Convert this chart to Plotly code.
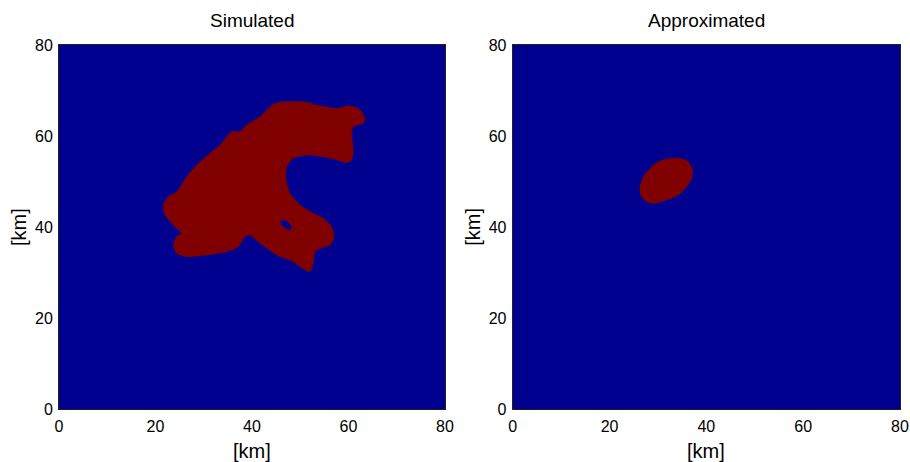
import plotly.graph_objects as go

# --- data (km) ---
sim_x = [45.12, 50.63, 53.41, 57.55, 59.96, 62.03, 63.42, 63.07, 61.0, 60.66, 61.0, 60.66,
         59.63, 57.55, 54.78, 51.34, 48.56, 47.19, 47.05, 47.88, 49.95, 52.70, 54.78, 56.52,
         56.99, 56.16, 54.09, 53.06, 52.70, 52.02, 50.98, 48.56, 45.12, 41.66, 39.58, 38.55,
         37.16, 34.76, 30.61, 26.47, 24.39, 23.69, 24.39, 25.43, 24.04, 21.97, 21.61, 22.64,
         24.39, 26.47, 28.54, 31.29, 33.37, 35.09, 35.79, 37.51, 38.90, 41.66, 43.73, 45.12]
sim_y = [67.33, 67.55, 66.83, 66.10, 66.61, 66.10, 63.90, 62.81, 62.06, 60.61, 56.94, 54.75,
         54.15, 54.75, 55.47, 55.84, 55.12, 53.28, 50.35, 47.43, 44.86, 43.04, 41.94, 40.10,
         37.55, 36.08, 35.36, 34.61, 32.06, 30.22, 30.59, 32.41, 33.88, 36.45, 38.28, 37.90,
         35.71, 34.61, 33.88, 33.51, 34.26, 36.08, 37.90, 38.65, 40.10, 42.67, 44.86, 46.69,
         47.79, 51.08, 53.65, 56.22, 58.04, 60.24, 60.96, 60.96, 62.43, 64.26, 66.45, 67.33]
hole_x = [46.36, 47.19, 47.87, 48.23, 47.73, 46.84, 46.15, 46.01, 46.36]
hole_y = [41.57, 41.35, 40.47, 39.75, 39.37, 39.88, 40.47, 41.20, 41.57]
app_x = [31.81, 34.56, 36.27, 37.18, 36.97, 35.94, 34.21, 31.81, 29.39, 27.68, 26.44, 26.30,
         26.98, 28.71, 30.08, 31.81]
app_y = [54.97, 55.12, 54.37, 52.55, 50.73, 48.88, 47.06, 45.96, 45.24, 45.59, 47.06, 48.88,
         51.08, 53.27, 54.37, 54.97]
ticks = [0, 20, 40, 60, 80]
titles = ["Simulated", "Approximated"]

BLUE = "#00008F"
RED = "#800000"
FONT = "Liberation Sans, Arial, sans-serif"

fig = go.Figure()

def blob(x, y, color, xa, ya):
    fig.add_trace(go.Scatter(x=x, y=y, mode="lines", fill="toself", fillcolor=color,
                             line=dict(color=color, width=0.5, shape="spline", smoothing=0.6),
                             xaxis=xa, yaxis=ya, hoverinfo="skip", showlegend=False))

blob(sim_x, sim_y, RED, "x", "y")
blob(hole_x, hole_y, BLUE, "x", "y")
blob(app_x, app_y, RED, "x2", "y2")

ax = dict(range=[0, 80], tickvals=ticks, ticktext=[str(t) for t in ticks], showgrid=False,
          zeroline=False, showline=True, mirror=True, linecolor="#222", linewidth=1,
          ticks="", automargin=False, ticklabelstandoff=2,
          tickfont=dict(family=FONT, size=16, color="black"))

ydom = [1 - 409.3 / 462, 1 - 45 / 462]
fig.update_layout(
    width=910, height=462, margin=dict(l=0, r=0, t=0, b=0),
    paper_bgcolor="white", plot_bgcolor=BLUE,
    xaxis=dict(ax, domain=[59 / 910, 445 / 910], anchor="y"),
    yaxis=dict(ax, domain=ydom, anchor="x"),
    xaxis2=dict(ax, domain=[512.7 / 910, 900 / 910], anchor="y2"),
    yaxis2=dict(ax, domain=ydom, anchor="x2"),
)

ann = []
for i, (x0, x1) in enumerate([(59, 445), (512.7, 900)]):
    cx = (x0 + x1) / 2 / 910
    ann.append(dict(text=titles[i], x=cx, y=1 - 20.5 / 462, xref="paper", yref="paper",
                    showarrow=False, font=dict(family=FONT, size=19, color="black"),
                    xanchor="center", yanchor="middle"))
    ann.append(dict(text="[km]", x=cx, y=1 - 451 / 462, xref="paper", yref="paper",
                    showarrow=False, font=dict(family=FONT, size=20, color="black"),
                    xanchor="center", yanchor="middle"))
    ann.append(dict(text="[km]", x=(x0 - 40) / 910, y=1 - 227 / 462, xref="paper", yref="paper",
                    showarrow=False, textangle=-90, font=dict(family=FONT, size=20, color="black"),
                    xanchor="center", yanchor="middle"))
fig.update_layout(annotations=ann)

fig.write_html("out.html")
